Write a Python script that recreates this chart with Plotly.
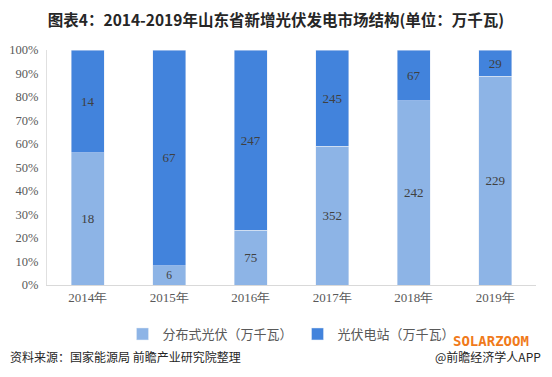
import plotly.graph_objects as go

years = ["2014年", "2015年", "2016年", "2017年", "2018年", "2019年"]
distributed = [18, 6, 75, 352, 242, 229]
station = [14, 67, 247, 245, 67, 29]
series_names = ["分布式光伏（万千瓦）", "光伏电站（万千瓦）"]
y_ticks = [0, 10, 20, 30, 40, 50, 60, 70, 80, 90, 100]
y_tick_labels = [f"{v}%" for v in y_ticks]

serif = "Liberation Serif, DejaVu Serif, serif"
sans = "Noto Sans CJK SC, sans-serif"

# page body adds an 8px margin; figure coordinates = screen - 8
O = 8
W, H = 552 - 2 * O, 377 - 2 * O
L, T = 47 - O, 50 - O
R = W - (536 - O)
B = H - (285 - O)
PW, PH = W - L - R, H - T - B

def px(x):
    return (x - O - L) / PW

def py(y):
    return (H - B - (y - O)) / PH

fig = go.Figure()
fig.add_trace(go.Bar(x=years, y=distributed, name=series_names[0],
                     marker_color="#8DB4E6", text=distributed, textposition="inside",
                     insidetextanchor="middle", textangle=0,
                     textfont=dict(family=serif, size=13, color="#404040")))
fig.add_trace(go.Bar(x=years, y=station, name=series_names[1],
                     marker_color="#4283DC", text=station, textposition="inside",
                     insidetextanchor="middle", textangle=0,
                     textfont=dict(family=serif, size=13, color="#404040")))

fig.update_layout(
    width=W, height=H,
    barmode="stack", barnorm="percent", bargap=0.59,
    paper_bgcolor="white", plot_bgcolor="white",
    margin=dict(l=L, r=R, t=T, b=B, autoexpand=False),
    title=dict(text="<b>图表4：2014-2019年山东省新增光伏发电市场结构(单位：万千瓦)</b>",
               x=0.5, xanchor="center", y=1 - (21 - O) / H, yanchor="middle",
               font=dict(family=sans, size=15.5, color="#262626")),
    xaxis=dict(showline=True, linecolor="#D9D9D9", linewidth=1, ticks="",
               tickfont=dict(family=serif, size=13, color="#595959")),
    yaxis=dict(range=[0, 100], tickvals=y_ticks, ticktext=y_tick_labels, showgrid=False,
               showline=True, linecolor="#E0E0E0", ticks="", zeroline=False,
               ticklabelstandoff=5,
               tickfont=dict(family=serif, size=12.5, color="#595959")),
    legend=dict(orientation="h", x=0.5, xanchor="center", y=py(319), yanchor="top",
                font=dict(family=sans, size=13, color="#595959"),
                itemwidth=30, traceorder="normal"),
    uniformtext=dict(mode=False),
)

fig.add_annotation(text="资料来源：国家能源局 前瞻产业研究院整理", xref="paper", yref="paper",
                   x=px(8), y=py(356), xanchor="left", yanchor="middle",
                   showarrow=False, font=dict(family=sans, size=12, color="#262626"))
fig.add_annotation(text="<b>SOLARZOOM</b>", xref="paper", yref="paper",
                   x=px(531), y=py(341), xanchor="right", yanchor="middle",
                   showarrow=False, font=dict(family="DejaVu Sans Mono, monospace", size=14, color="#F07A1A"))
fig.add_annotation(text="@前瞻经济学人APP", xref="paper", yref="paper",
                   x=px(543), y=py(356), xanchor="right", yanchor="middle",
                   showarrow=False, font=dict(family=sans, size=12, color="#262626"))

fig.write_html("out.html")
